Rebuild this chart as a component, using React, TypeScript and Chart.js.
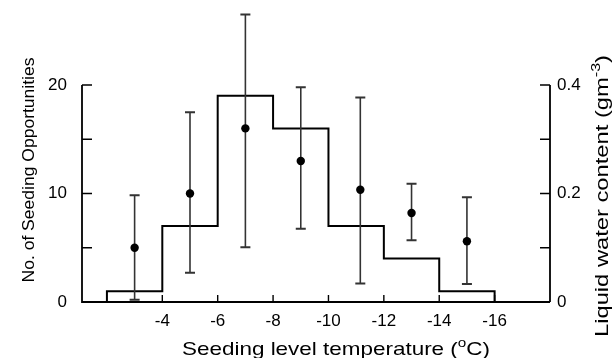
import React, { useEffect, useRef } from "react";
import { Chart, registerables } from "chart.js";

Chart.register(...registerables);

// Histogram: bin edges (°C) and number of seeding opportunities per bin
const binEdges = [-2, -4, -6, -8, -10, -12, -14, -16];
const binCounts = [1, 7, 19, 16, 7, 4, 1];

// Liquid water content (g m^-3): temperature, mean, lower and upper error bounds
const lwcTemps = [-3, -5, -7, -9, -11.15, -13, -15];
const lwcMean = [0.1, 0.2, 0.32, 0.26, 0.207, 0.164, 0.112];
const lwcLow = [0.004, 0.054, 0.101, 0.135, 0.034, 0.114, 0.033];
const lwcHigh = [0.197, 0.35, 0.53, 0.396, 0.377, 0.218, 0.193];

// Axes
const xTicks = [-4, -6, -8, -10, -12, -14, -16];
const countTickMarks = [0, 5, 10, 15, 20];
const countTickLabels = [0, 10, 20];
const lwcTickMarks = [0, 0.1, 0.2, 0.3, 0.4];
const lwcTickLabels = [0, 0.2, 0.4];

const FONT = "'Liberation Sans', Arial, Helvetica, sans-serif";

type Part = { text: string; sup?: boolean };

function drawStretched(
  ctx: CanvasRenderingContext2D,
  parts: Part[],
  cx: number,
  cy: number,
  rotation: number,
  targetLen: number,
  size: number
) {
  const supSize = size * 0.68;
  let w = 0;
  const widths: number[] = [];
  for (const p of parts) {
    ctx.font = `${p.sup ? supSize : size}px ${FONT}`;
    const m = ctx.measureText(p.text).width;
    widths.push(m);
    w += m;
  }
  const s = targetLen / w;
  ctx.save();
  ctx.translate(cx, cy);
  ctx.rotate(rotation);
  ctx.scale(s, 1);
  ctx.fillStyle = "#000";
  ctx.textBaseline = "alphabetic";
  ctx.textAlign = "left";
  let x = -w / 2;
  parts.forEach((p, i) => {
    ctx.font = `${p.sup ? supSize : size}px ${FONT}`;
    ctx.fillText(p.text, x, p.sup ? -size * 0.42 : 0);
    x += widths[i];
  });
  ctx.restore();
}

const errorBarPlugin = {
  id: "errorBars",
  beforeDatasetDraw(chart: any, args: any) {
    if (args.index !== 1) return;
    const { ctx } = chart;
    const xs = chart.scales.x;
    const ys = chart.scales.y1;
    ctx.save();
    ctx.strokeStyle = "#333";
    lwcTemps.forEach((t, i) => {
      const px = xs.getPixelForValue(t);
      const yl = ys.getPixelForValue(lwcLow[i]);
      const yh = ys.getPixelForValue(lwcHigh[i]);
      ctx.lineWidth = 1.6;
      ctx.beginPath();
      ctx.moveTo(px, yl);
      ctx.lineTo(px, yh);
      ctx.stroke();
      ctx.lineWidth = 2;
      ctx.beginPath();
      ctx.moveTo(px - 5, yl);
      ctx.lineTo(px + 5, yl);
      ctx.moveTo(px - 5, yh);
      ctx.lineTo(px + 5, yh);
      ctx.stroke();
    });
    ctx.restore();
  },
};

const axesPlugin = {
  id: "frameAxes",
  afterDraw(chart: any) {
    const { ctx } = chart;
    const xs = chart.scales.x;
    const y = chart.scales.y;
    const y1 = chart.scales.y1;
    const left = xs.left;
    const right = xs.right;
    const y0 = y.getPixelForValue(0);
    const yTop = y.getPixelForValue(20);
    const y1Top = y1.getPixelForValue(0.4);
    ctx.save();
    ctx.strokeStyle = "#000";
    ctx.lineWidth = 1.8;
    ctx.beginPath();
    ctx.moveTo(left, yTop);
    ctx.lineTo(left, y0);
    ctx.lineTo(right, y0);
    ctx.moveTo(right, y0);
    ctx.lineTo(right, y1Top);
    ctx.stroke();
    ctx.lineWidth = 1.4;
    ctx.beginPath();
    countTickMarks.forEach((v) => {
      const py = y.getPixelForValue(v);
      ctx.moveTo(left, py);
      ctx.lineTo(left + 10, py);
    });
    lwcTickMarks.forEach((v) => {
      const py = y1.getPixelForValue(v);
      ctx.moveTo(right, py);
      ctx.lineTo(right - 10, py);
    });
    xTicks.forEach((v) => {
      const px = xs.getPixelForValue(v);
      ctx.moveTo(px, y0);
      ctx.lineTo(px, y0 - 7);
    });
    ctx.stroke();
    ctx.restore();

    drawStretched(
      ctx,
      [{ text: "Seeding level temperature (" }, { text: "o", sup: true }, { text: "C)" }],
      (left + right) / 2 + 20,
      355,
      0,
      308,
      18.5
    );
    drawStretched(
      ctx,
      [{ text: "No. of Seeding Opportunities" }],
      33.5,
      170,
      -Math.PI / 2,
      225,
      17
    );
    drawStretched(
      ctx,
      [{ text: "Liquid water content (gm" }, { text: "-3", sup: true }, { text: ")" }],
      608,
      196,
      -Math.PI / 2,
      282,
      18
    );
  },
};

export default function App() {
  const ref = useRef<HTMLCanvasElement | null>(null);

  useEffect(() => {
    if (!ref.current) return;
    const histData: { x: number; y: number }[] = [{ x: binEdges[0], y: 0 }];
    binCounts.forEach((c, i) => histData.push({ x: binEdges[i], y: c }));
    histData.push({ x: binEdges[binEdges.length - 1], y: 0 });

    const pointData = lwcTemps.map((t, i) => ({ x: t, y: lwcMean[i] }));

    const tickFont = { family: FONT, size: 17 };

    const chart = new Chart(ref.current, {
      type: "line",
      data: {
        datasets: [
          {
            label: "Seeding opportunities",
            data: histData,
            yAxisID: "y",
            stepped: "before",
            borderColor: "#000",
            borderWidth: 2,
            pointRadius: 0,
            fill: false,
            order: 1,
          },
          {
            label: "Liquid water content",
            data: pointData,
            yAxisID: "y1",
            showLine: false,
            pointRadius: 4.2,
            pointBackgroundColor: "#000",
            pointBorderColor: "#000",
            pointBorderWidth: 0,
            order: 0,
          },
        ],
      },
      options: {
        responsive: false,
        animation: false,
        layout: { padding: { top: 85, left: 0, right: 0, bottom: 0 } },
        plugins: {
          legend: { display: false },
          tooltip: { enabled: false },
        },
        scales: {
          x: {
            type: "linear",
            min: -18,
            max: -1.1,
            reverse: true,
            grid: { display: false, drawTicks: false },
            border: { display: false },
            afterBuildTicks: (s: any) => {
              s.ticks = xTicks.map((v) => ({ value: v }));
            },
            afterFit: (s: any) => {
              s.height = 56;
            },
            ticks: {
              font: tickFont,
              color: "#000",
              padding: 9,
              maxRotation: 0,
              autoSkip: false,
              callback: (v: any) => String(v),
            },
          },
          y: {
            type: "linear",
            position: "left",
            min: 0,
            max: 20,
            grid: { display: false, drawTicks: false },
            border: { display: false },
            afterBuildTicks: (s: any) => {
              s.ticks = countTickLabels.map((v) => ({ value: v }));
            },
            afterFit: (s: any) => {
              s.width = 82;
            },
            ticks: {
              font: tickFont,
              color: "#000",
              padding: 15,
              callback: (v: any) => String(v),
            },
          },
          y1: {
            type: "linear",
            position: "right",
            min: 0,
            max: 0.4,
            grid: { display: false, drawTicks: false },
            border: { display: false },
            afterBuildTicks: (s: any) => {
              s.ticks = lwcTickLabels.map((v) => ({ value: v }));
            },
            afterFit: (s: any) => {
              s.width = 66;
            },
            ticks: {
              font: tickFont,
              color: "#000",
              padding: 7,
              callback: (v: any) => String(v),
            },
          },
        },
      },
      plugins: [errorBarPlugin, axesPlugin],
    } as any);

    return () => chart.destroy();
  }, []);

  return (
    <div style={{ position: "fixed", left: 0, top: 0, width: 616, height: 358, background: "#fff" }}>
      <canvas ref={ref} width={616} height={358} style={{ display: "block" }} />
    </div>
  );
}
